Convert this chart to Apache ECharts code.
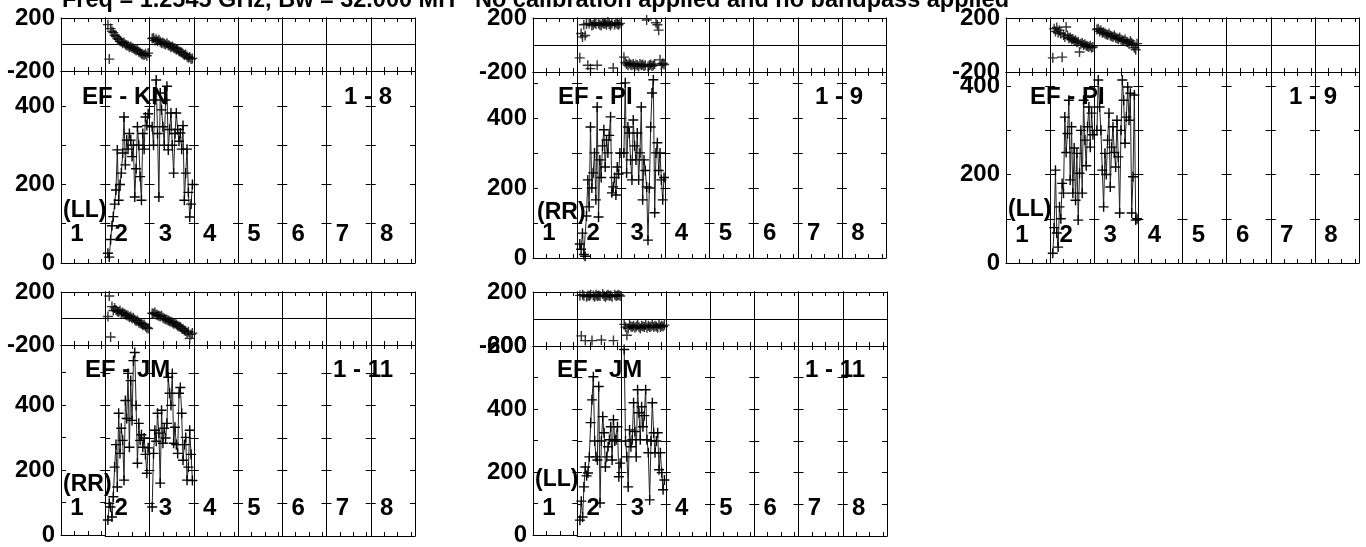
<!DOCTYPE html>
<html>
<head>
<meta charset="utf-8">
<script src="https://cdn.jsdelivr.net/npm/echarts@6/dist/echarts.min.js"></script>
<style>
html,body{margin:0;padding:0;background:#fff;}
#chart{width:1366px;height:547px;}
</style>
</head>
<body>
<div id="chart"></div>
<script>
// ---------------- data ----------------
const CHANNELS = [2,3,4,5,6,7,8,9,10,11,12,13,14,15,16,17,18,19,20,21,22,23,24,25,26,27,28,29,30,31,32];
const IF_LABELS = ['1','2','3','4','5','6','7','8'];
const BASELINES = ['EF - KN', 'EF - PI', 'EF - PI', 'EF - JM', 'EF - JM'];
const CORR_LABELS = ['1 - 8', '1 - 9', '1 - 9', '1 - 11', '1 - 11'];
const POL_LABELS = ['(LL)', '(RR)', '(LL)', '(RR)', '(LL)'];
const AMP_LABEL_VALUES = [0, 200, 400, 600];
const PHASE_LABEL_VALUES = [-200, 200];
const TITLE_LEFT = 'Freq = 1.2545 GHz, Bw = 32.000 MH';
const TITLE_RIGHT = 'No calibration applied and no bandpass applied';

// EF - KN (LL)
const KN_LL_AMP_IF2 = [25, 15, 60, 95, 118, 150, 186, 288, 160, 200, 229, 280, 372, 250, 313, 290, 330, 313, 271, 300, 168, 240, 347, 300, 220, 160, 330, 290, 372, 350, 380];
const KN_LL_AMP_IF3 = [347, 300, 415, 466, 330, 168, 433, 390, 347, 300, 415, 450, 288, 340, 382, 300, 229, 330, 382, 340, 310, 331, 290, 350, 160, 229, 290, 180, 117, 150, 200];
const KN_LL_PH_IF2 = [150, -110, 120, 100, 90, 70, 60, 45, 40, 25, 20, 10, 15, 0, -5, -10, -20, -15, -25, -30, -35, -45, -40, -55, -60, -70, -75, -80, -70, -85, -65];
const KN_LL_PH_IF3 = [45, 50, 30, 40, 25, 35, 20, 10, 15, 5, 0, 10, -5, -10, -20, -15, -25, -30, -40, -35, -50, -55, -60, -70, -80, -75, -90, -100, -95, -110, -105];

// EF - PI (RR)
const PI_RR_AMP_IF2 = [40, 25, 71, 10, 5, 120, 223, 146, 374, 200, 243, 300, 166, 431, 117, 280, 230, 320, 366, 260, 337, 300, 350, 403, 186, 203, 230, 180, 260, 240, 300];
const PI_RR_AMP_IF3 = [300, 500, 243, 374, 357, 280, 223, 394, 320, 280, 357, 223, 300, 431, 166, 280, 250, 203, 51, 200, 374, 471, 509, 129, 300, 329, 250, 300, 223, 166, 230];
const PI_RR_PH_IF2 = [-95, 85, 60, 150, 70, 155, -150, 160, -175, 145, 150, 165, 155, -150, 160, 150, 145, 165, 155, 160, 150, 170, 155, 145, 160, -170, 150, 165, 155, 150, 160];
const PI_RR_PH_IF3 = [-90, -130, -140, -150, -135, -145, -150, -140, -155, -145, -150, -160, -140, -150, -145, -155, -150, 185, -160, -150, -145, -155, -150, -140, 165, 150, 110, -110, -150, -135, -145];

// EF - PI (LL)
const PI_LL_AMP_IF2 = [22, 80, 210, 68, 36, 127, 100, 180, 158, 330, 250, 293, 368, 188, 308, 158, 260, 142, 248, 97, 203, 300, 158, 368, 278, 220, 308, 353, 262, 339, 290];
const PI_LL_AMP_IF3 = [300, 414, 353, 300, 210, 127, 248, 200, 278, 339, 172, 262, 308, 250, 217, 323, 240, 113, 300, 414, 368, 271, 330, 398, 323, 384, 113, 195, 380, 97, 100];
const PI_LL_PH_IF2 = [-95, 120, 100, 130, 90, 110, 85, -90, 75, 60, 133, 70, 50, 55, 40, 45, 30, 35, 20, 25, -52, 10, 15, 0, 5, -5, -10, -15, -5, -20, -15];
const PI_LL_PH_IF3 = [115, 120, 100, 110, 90, 95, 85, 80, 75, 85, 70, 65, 60, 70, 55, 50, 45, 55, 40, 35, 30, 40, 25, 20, 10, 30, 15, 5, -20, -35, 10];

// EF - JM (RR)
const JM_RR_AMP_IF2 = [49, 100, 89, 58, 120, 211, 280, 150, 376, 253, 330, 293, 171, 415, 360, 498, 272, 476, 354, 537, 562, 400, 223, 345, 293, 310, 272, 300, 250, 192, 270];
const JM_RR_AMP_IF3 = [89, 253, 324, 290, 376, 315, 162, 385, 284, 330, 300, 345, 486, 437, 400, 498, 284, 333, 280, 253, 437, 455, 376, 232, 280, 302, 171, 211, 324, 250, 170];
const JM_RR_PH_IF2 = [15, 170, -140, 90, 60, 80, 65, 55, 50, 60, 40, 45, 35, 30, 25, 20, 10, 15, 0, 5, -10, -20, -15, -30, -35, -40, -50, -45, -60, -70, -75];
const JM_RR_PH_IF3 = [40, 35, 45, 30, 25, 20, 15, 20, 5, 0, -5, -10, -15, -20, -25, -30, -40, -35, -45, -55, -60, -65, -75, -80, -90, -95, -110, -100, -150, -120, -110];

// EF - JM (LL)
const JM_LL_AMP_IF2 = [50, 110, 60, 155, 218, 190, 199, 250, 358, 430, 503, 300, 250, 240, 472, 104, 300, 377, 326, 218, 250, 282, 304, 345, 240, 367, 300, 304, 345, 187, 230];
const JM_LL_AMP_IF3 = [589, 300, 250, 155, 335, 282, 304, 421, 330, 250, 462, 389, 304, 408, 345, 380, 462, 304, 263, 114, 300, 421, 326, 263, 300, 326, 209, 263, 200, 146, 177];
const JM_LL_PH_IF2 = [175, -125, 180, 170, -160, 165, 175, 170, 180, -160, 175, 165, 180, 170, 175, 170, -155, 185, 170, 165, 175, 180, 170, 175, 165, -160, 180, 170, 175, 180, 170];
const JM_LL_PH_IF3 = [-40, -60, -120, -70, -45, -55, -60, -50, -65, -55, -45, -60, -70, -50, -55, -60, -45, -65, -50, -60, -55, -45, -60, -50, -55, -65, -40, -60, -50, -55, -45];

// per-panel axis scales
const AMP_MAX = [489, 531, 432, 585, 600];
const PHASE_MIN = -200, PHASE_MAX = 200;
const X_MAX = 33;

// ---------------- layout (pixels) ----------------
const LAYOUT = [
  {left:61,  right:415,  phTop:18,  phBot:71,  ampBot:263, nameX:82,   nameY:97,  corrX:392,  polX:63,   polY:211, numY:234},
  {left:533, right:886,  phTop:18,  phBot:72,  ampBot:258, nameX:558,  nameY:97,  corrX:863,  polX:537,  polY:213, numY:233},
  {left:1006,right:1359, phTop:18,  phBot:72,  ampBot:263, nameX:1030, nameY:97,  corrX:1337, polX:1008, polY:210, numY:235},
  {left:61,  right:415,  phTop:292, phBot:345, ampBot:536, nameX:85,   nameY:370, corrX:393,  polX:63,   polY:485, numY:508},
  {left:533, right:887,  phTop:292, phBot:346, ampBot:536, nameX:557,  nameY:370, corrX:865,  polX:535,  polY:480, numY:508}
];

const PANEL_DATA = [
  {amp:[KN_LL_AMP_IF2, KN_LL_AMP_IF3], ph:[KN_LL_PH_IF2, KN_LL_PH_IF3]},
  {amp:[PI_RR_AMP_IF2, PI_RR_AMP_IF3], ph:[PI_RR_PH_IF2, PI_RR_PH_IF3]},
  {amp:[PI_LL_AMP_IF2, PI_LL_AMP_IF3], ph:[PI_LL_PH_IF2, PI_LL_PH_IF3]},
  {amp:[JM_RR_AMP_IF2, JM_RR_AMP_IF3], ph:[JM_RR_PH_IF2, JM_RR_PH_IF3]},
  {amp:[JM_LL_AMP_IF2, JM_LL_AMP_IF3], ph:[JM_LL_PH_IF2, JM_LL_PH_IF3]}
];
const DATA_IFS = [1, 2]; // segment index (0-based) of IF 2 and IF 3

// ---------------- build ----------------
const FONT_FAMILY = '"Liberation Sans", Arial, Helvetica, sans-serif';
const BLACK = '#000';
const CROSS = 'path://M0,4.3H10V5.7H0Z M4.3,0H5.7V10H4.3Z';

const grids = [], xAxes = [], yAxes = [], series = [], graphics = [];

function labelStyle(show, formatter) {
  return {show: show, formatter: formatter, color: BLACK, fontSize: 24, fontWeight: 'bold',
          fontFamily: FONT_FAMILY, margin: 6};
}

function addGrid(x, y, w, h, yMin, yMax, yInterval, kind, showLabels) {
  const gi = grids.length;
  grids.push({left: x, top: y, width: w, height: h, containLabel: false});
  const xi = xAxes.length;
  ['bottom', 'top'].forEach(function (pos) {
    xAxes.push({gridIndex: gi, type: 'value', position: pos, min: 0, max: X_MAX, interval: 10,
      axisLine: {show: true, onZero: false, lineStyle: {color: BLACK, width: 1}},
      axisTick: {show: true, inside: true, length: 4, lineStyle: {color: BLACK, width: 1}},
      axisLabel: {show: false}, splitLine: {show: false}});
  });
  const yi = yAxes.length;
  ['left', 'right'].forEach(function (pos, k) {
    const isPhase = kind === 'phase';
    const fmt = isPhase
      ? function (v) { return PHASE_LABEL_VALUES.indexOf(v) >= 0 ? String(v) : ''; }
      : function (v) { return AMP_LABEL_VALUES.indexOf(v) >= 0 ? String(v) : ''; };
    const lab = labelStyle(showLabels && k === 0, fmt);
    if (isPhase) { lab.showMinLabel = true; lab.showMaxLabel = true; }
    else { lab.showMinLabel = true; }
    yAxes.push({gridIndex: gi, type: 'value', position: pos, min: yMin, max: yMax, interval: yInterval,
      axisLine: {show: true, onZero: false, lineStyle: {color: BLACK, width: 1}},
      axisTick: {show: !isPhase, inside: true, length: 5, lineStyle: {color: BLACK, width: 1}},
      axisLabel: lab,
      splitLine: {show: isPhase && k === 0, lineStyle: {color: BLACK, width: 1}}});
  });
  return {gi: gi, xi: xi, yi: yi};
}

function addText(x, y, text, align, size) {
  graphics.push({type: 'text', x: x, y: y, z: 100,
    style: {text: text, fill: BLACK, font: 'bold ' + size + 'px ' + FONT_FAMILY,
            align: align, textAlign: align, verticalAlign: 'middle', textVerticalAlign: 'middle'}});
}

LAYOUT.forEach(function (L, p) {
  const w = (L.right - L.left) / IF_LABELS.length;
  const segs = [];
  for (let s = 0; s < IF_LABELS.length; s++) {
    const x = L.left + s * w;
    const ph = addGrid(x, L.phTop, w, L.phBot - L.phTop, PHASE_MIN, PHASE_MAX, 200, 'phase', s === 0);
    const am = addGrid(x, L.phBot, w, L.ampBot - L.phBot, 0, AMP_MAX[p], 100, 'amp', s === 0);
    segs.push({ph: ph, am: am});
    addText(x + 16, L.numY, IF_LABELS[s], 'center', 24);
  }
  DATA_IFS.forEach(function (s, k) {
    const amp = PANEL_DATA[p].amp[k], ph = PANEL_DATA[p].ph[k];
    series.push({type: 'line', xAxisIndex: segs[s].am.xi, yAxisIndex: segs[s].am.yi,
      data: CHANNELS.map(function (c, i) { return [c, amp[i]]; }),
      symbol: CROSS, symbolSize: 10, showSymbol: true, clip: false,
      lineStyle: {color: '#222', width: 1}, itemStyle: {color: BLACK}, z: 3, silent: true});
    series.push({type: 'scatter', xAxisIndex: segs[s].ph.xi, yAxisIndex: segs[s].ph.yi,
      data: CHANNELS.map(function (c, i) { return [c, ph[i]]; }),
      symbol: CROSS, symbolSize: 10, clip: false, itemStyle: {color: BLACK}, z: 3, silent: true});
  });
  addText(L.nameX, L.nameY, BASELINES[p], 'left', 24);
  addText(L.corrX, L.nameY, CORR_LABELS[p], 'right', 24);
  addText(L.polX, L.polY, POL_LABELS[p], 'left', 23);
});

addText(62, 1, TITLE_LEFT, 'left', 23.5);
addText(475, 1, TITLE_RIGHT, 'left', 23.5);

const chart = echarts.init(document.getElementById('chart'), null, {renderer: 'canvas'});
chart.setOption({
  animation: false,
  backgroundColor: '#fff',
  grid: grids, xAxis: xAxes, yAxis: yAxes, series: series,
  graphic: {elements: graphics}
});
</script>
</body>
</html>
